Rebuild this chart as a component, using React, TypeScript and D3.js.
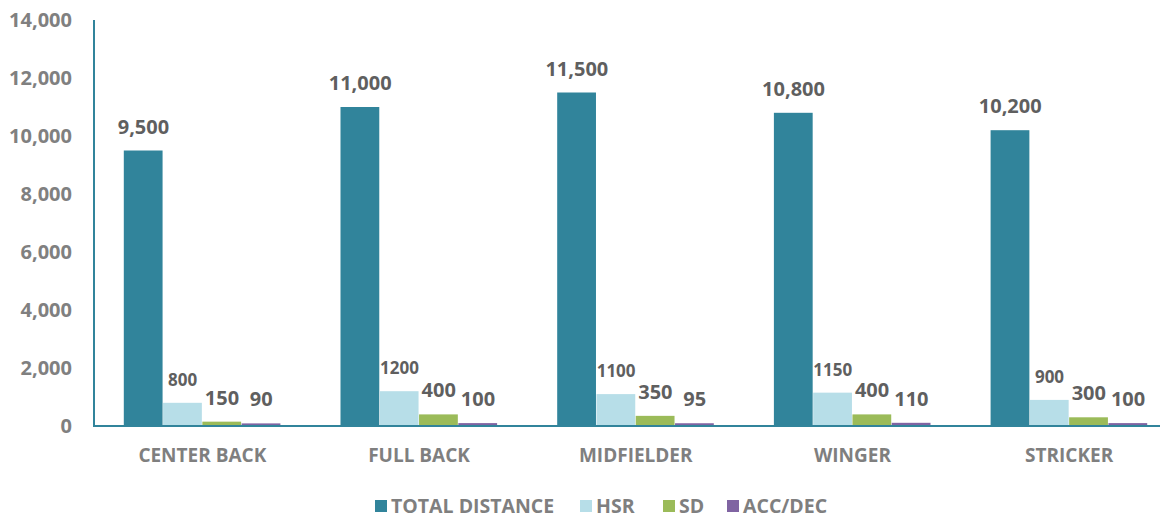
import React from 'react';
import * as d3 from 'd3';

// values
const categories = ['CENTER BACK', 'FULL BACK', 'MIDFIELDER', 'WINGER', 'STRICKER'];
const seriesNames = ['TOTAL DISTANCE', 'HSR', 'SD', 'ACC/DEC'];
const totalDistance = [9500, 11000, 11500, 10800, 10200];
const hsr = [800, 1200, 1100, 1150, 900];
const sd = [150, 400, 350, 400, 300];
const accDec = [90, 100, 95, 110, 100];
const yTicks = [0, 2000, 4000, 6000, 8000, 10000, 12000, 14000];

const seriesColors = ['#31849b', '#b7dee8', '#9bbb59', '#8064a2'];
const FONT = '"Open Sans", sans-serif';

const App = () => {
  const width = 1165;
  const height = 519;
  const margin = { top: 20, right: 5, bottom: 93, left: 94 };
  const plotBottom = height - margin.bottom;

  const seriesValues = [totalDistance, hsr, sd, accDec];

  const x = d3.scaleBand<string>()
    .domain(categories)
    .range([margin.left, margin.left + 5 * 216.7])
    .paddingInner(0.275)
    .paddingOuter(0.1375);

  const xInner = d3.scaleBand<string>()
    .domain(seriesNames)
    .range([0, x.bandwidth()])
    .padding(0);

  const y = d3.scaleLinear().domain([0, 14000]).range([plotBottom, margin.top]);

  const fmtComma = d3.format(',');

  // legend layout (square + text)
  const legendItems = [
    { name: seriesNames[0], x: 375 },
    { name: seriesNames[1], x: 580 },
    { name: seriesNames[2], x: 663 },
    { name: seriesNames[3], x: 727 },
  ];

  return (
    <svg width={width} height={height} style={{ position: 'absolute', left: 0, top: 0 }}>
      <rect width={width} height={height} fill="#fff" />

      {/* y tick labels */}
      {yTicks.map((t) => (
        <text
          key={t}
          x={72}
          y={y(t)}
          dy="0.36em"
          textAnchor="end"
          fill="#808080"
          fontFamily={FONT}
          fontWeight={700}
          fontSize={20}
        >
          {fmtComma(t)}
        </text>
      ))}

      {/* bars */}
      {categories.map((cat, ci) => (
        <g key={cat} transform={`translate(${x(cat)},0)`}>
          {seriesNames.map((s, si) => {
            const v = seriesValues[si][ci];
            const bx = xInner(s)!;
            const bw = xInner.bandwidth();
            return (
              <g key={s}>
                <rect
                  x={bx}
                  y={y(v)}
                  width={bw - 0.5}
                  height={plotBottom - y(v)}
                  fill={seriesColors[si]}
                />
                <text
                  x={bx + bw / 2}
                  y={y(v) - 17}
                  textAnchor="middle"
                  fill="#5f5f5f"
                  fontFamily={FONT}
                  fontWeight={700}
                  fontSize={si === 1 ? 17 : 20}
                >
                  {si === 0 ? fmtComma(v) : String(v)}
                </text>
              </g>
            );
          })}
        </g>
      ))}

      {/* axis lines */}
      <line x1={94} x2={94} y1={margin.top} y2={plotBottom + 1} stroke="#31849b" strokeWidth={2} />
      <line x1={93} x2={1160} y1={plotBottom} y2={plotBottom} stroke="#31849b" strokeWidth={2} />

      {/* category labels */}
      {categories.map((cat) => (
        <text
          key={cat}
          x={x(cat)! + x.bandwidth() / 2}
          y={462}
          textAnchor="middle"
          fill="#7f7f7f"
          fontFamily={FONT}
          fontWeight={700}
          fontSize={19}
        >
          {cat}
        </text>
      ))}

      {/* legend */}
      {legendItems.map((it, i) => (
        <g key={it.name} transform={`translate(${it.x},500)`}>
          <rect x={0} y={0} width={12} height={12} fill={seriesColors[i]} />
          <text
            x={16}
            y={6}
            dy="0.36em"
            fill="#7f7f7f"
            fontFamily={FONT}
            fontWeight={700}
            fontSize={19.5}
          >
            {it.name}
          </text>
        </g>
      ))}
    </svg>
  );
};

export default App;
